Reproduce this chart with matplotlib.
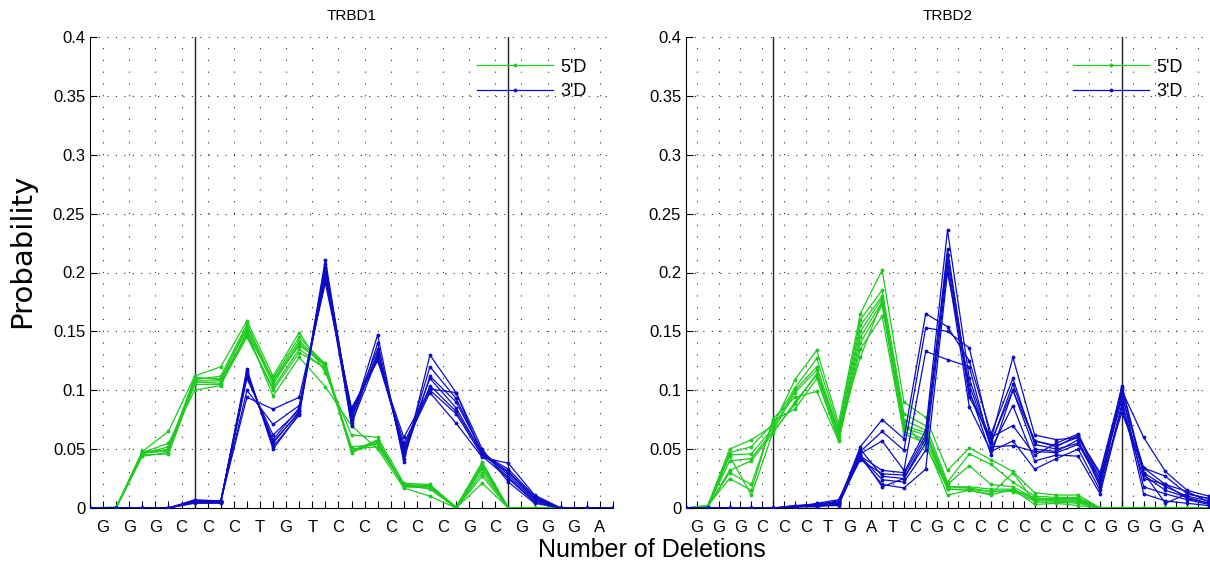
import matplotlib
matplotlib.use("Agg")
import matplotlib.pyplot as plt
import numpy as np

plt.rcParams['font.family'] = ['Liberation Sans', 'DejaVu Sans']

# ---------------- data ----------------
titles = ["TRBD1", "TRBD2"]
letters_d1 = list("GGGCCCTGTCCCCCGCGGGA")
letters_d2 = list("GGGCCCTGATCGCCCCCCCGGGGA")
boundaries_d1 = [4, 16]
boundaries_d2 = [4, 20]

# TRBD1 5'D deletion profiles (one list per sample), positions 0..20
d1_5p = [
    [0, 0.001, 0.047, 0.048, 0.110, 0.110, 0.152, 0.105, 0.140, 0.120, 0.049, 0.055, 0.019, 0.018, 0.001, 0.035, 0, 0, 0, 0, 0],
    [0, 0, 0.046, 0.050, 0.108, 0.108, 0.148, 0.110, 0.145, 0.122, 0.048, 0.058, 0.018, 0.017, 0, 0.038, 0, 0, 0, 0, 0],
    [0, 0, 0.045, 0.046, 0.105, 0.105, 0.145, 0.102, 0.135, 0.118, 0.050, 0.052, 0.020, 0.019, 0, 0.030, 0, 0, 0, 0, 0],
    [0, 0, 0.048, 0.065, 0.112, 0.120, 0.159, 0.112, 0.149, 0.115, 0.062, 0.060, 0.021, 0.020, 0, 0.033, 0, 0, 0, 0, 0],
    [0, 0, 0.047, 0.055, 0.100, 0.104, 0.150, 0.095, 0.128, 0.103, 0.070, 0.050, 0.017, 0.010, 0, 0.021, 0, 0, 0, 0, 0],
    [0, 0, 0.046, 0.052, 0.109, 0.112, 0.156, 0.108, 0.142, 0.121, 0.047, 0.056, 0.018, 0.019, 0.001, 0.039, 0, 0, 0, 0, 0],
    [0, 0, 0.044, 0.047, 0.107, 0.106, 0.147, 0.100, 0.132, 0.119, 0.052, 0.054, 0.020, 0.016, 0, 0.027, 0, 0, 0, 0, 0],
    [0, 0, 0.048, 0.049, 0.111, 0.109, 0.154, 0.108, 0.138, 0.123, 0.049, 0.057, 0.019, 0.018, 0, 0.036, 0, 0, 0, 0, 0],
]
# TRBD1 3'D deletion profiles
d1_3p = [
    [0, 0, 0, 0, 0.006, 0.005, 0.118, 0.050, 0.080, 0.211, 0.075, 0.147, 0.039, 0.130, 0.098, 0.045, 0.030, 0.008, 0, 0, 0],
    [0, 0, 0, 0, 0.005, 0.005, 0.115, 0.055, 0.082, 0.205, 0.080, 0.135, 0.045, 0.120, 0.093, 0.047, 0.026, 0.006, 0, 0, 0],
    [0, 0, 0, 0, 0.004, 0.004, 0.112, 0.058, 0.085, 0.200, 0.078, 0.130, 0.050, 0.110, 0.085, 0.046, 0.033, 0.010, 0, 0, 0],
    [0, 0, 0, 0, 0.007, 0.006, 0.110, 0.062, 0.083, 0.198, 0.072, 0.128, 0.055, 0.100, 0.080, 0.044, 0.025, 0.005, 0, 0, 0],
    [0, 0, 0, 0, 0.005, 0.005, 0.100, 0.071, 0.087, 0.195, 0.083, 0.126, 0.052, 0.098, 0.072, 0.043, 0.038, 0.011, 0, 0, 0],
    [0, 0, 0, 0, 0.006, 0.006, 0.094, 0.084, 0.094, 0.191, 0.085, 0.125, 0.060, 0.101, 0.098, 0.050, 0.022, 0.004, 0, 0, 0],
    [0, 0, 0, 0, 0.005, 0.005, 0.116, 0.052, 0.079, 0.203, 0.070, 0.140, 0.042, 0.112, 0.090, 0.048, 0.028, 0.007, 0, 0, 0],
    [0, 0, 0, 0, 0.006, 0.006, 0.113, 0.056, 0.081, 0.207, 0.076, 0.132, 0.047, 0.104, 0.082, 0.046, 0.031, 0.009, 0, 0, 0],
]
# TRBD2 5'D deletion profiles, positions 0..24
d2_5p = [
    [0, 0.002, 0.050, 0.058, 0.070, 0.109, 0.134, 0.072, 0.165, 0.202, 0.090, 0.077, 0.032, 0.051, 0.041, 0.031, 0.013, 0.011, 0.011, 0, 0, 0, 0, 0, 0],
    [0, 0.002, 0.047, 0.052, 0.072, 0.102, 0.127, 0.068, 0.160, 0.185, 0.080, 0.070, 0.022, 0.046, 0.037, 0.022, 0.010, 0.009, 0.009, 0, 0, 0, 0, 0, 0],
    [0, 0.001, 0.045, 0.046, 0.068, 0.100, 0.120, 0.065, 0.155, 0.180, 0.075, 0.066, 0.020, 0.036, 0.020, 0.018, 0.008, 0.008, 0.008, 0, 0, 0, 0, 0, 0],
    [0, 0.001, 0.040, 0.042, 0.066, 0.098, 0.117, 0.062, 0.150, 0.178, 0.070, 0.064, 0.018, 0.018, 0.016, 0.016, 0.007, 0.007, 0.007, 0, 0, 0, 0, 0, 0],
    [0, 0.001, 0.032, 0.040, 0.064, 0.090, 0.113, 0.060, 0.145, 0.175, 0.068, 0.062, 0.016, 0.016, 0.014, 0.014, 0.006, 0.006, 0.005, 0, 0, 0, 0, 0, 0],
    [0, 0.001, 0.030, 0.020, 0.074, 0.084, 0.110, 0.058, 0.140, 0.172, 0.065, 0.058, 0.016, 0.015, 0.012, 0.030, 0.005, 0.005, 0.004, 0, 0, 0, 0, 0, 0],
    [0, 0.002, 0.025, 0.015, 0.076, 0.094, 0.099, 0.057, 0.135, 0.163, 0.063, 0.055, 0.011, 0.015, 0.011, 0.016, 0.003, 0.004, 0.002, 0, 0, 0, 0, 0, 0],
    [0, 0.001, 0.044, 0.011, 0.065, 0.088, 0.114, 0.066, 0.128, 0.176, 0.072, 0.052, 0.018, 0.017, 0.014, 0.015, 0.009, 0.006, 0.006, 0, 0, 0, 0, 0, 0],
]
# TRBD2 3'D deletion profiles
d2_3p = [
    [0, 0, 0, 0, 0, 0.001, 0.002, 0.004, 0.052, 0.075, 0.059, 0.165, 0.154, 0.125, 0.063, 0.110, 0.054, 0.050, 0.055, 0.025, 0.095, 0.034, 0.027, 0.012, 0.008],
    [0, 0, 0, 0, 0, 0.001, 0.003, 0.006, 0.048, 0.065, 0.049, 0.153, 0.150, 0.136, 0.058, 0.128, 0.062, 0.058, 0.060, 0.028, 0.100, 0.060, 0.031, 0.015, 0.010],
    [0, 0, 0, 0, 0, 0.001, 0.002, 0.003, 0.046, 0.057, 0.032, 0.133, 0.126, 0.120, 0.050, 0.087, 0.040, 0.045, 0.044, 0.012, 0.085, 0.025, 0.020, 0.008, 0.004],
    [0, 0, 0, 0, 0, 0.001, 0.004, 0.007, 0.044, 0.032, 0.030, 0.066, 0.236, 0.110, 0.055, 0.105, 0.057, 0.052, 0.062, 0.020, 0.104, 0.030, 0.018, 0.010, 0.006],
    [0, 0, 0, 0, 0, 0.001, 0.002, 0.005, 0.041, 0.029, 0.028, 0.062, 0.215, 0.100, 0.045, 0.100, 0.050, 0.048, 0.058, 0.018, 0.098, 0.018, 0.012, 0.007, 0.003],
    [0, 0, 0, 0, 0, 0.002, 0.003, 0.004, 0.050, 0.027, 0.025, 0.059, 0.210, 0.094, 0.060, 0.070, 0.045, 0.055, 0.063, 0.024, 0.092, 0.012, 0.006, 0.004, 0.002],
    [0, 0, 0, 0, 0, 0.001, 0.002, 0.002, 0.044, 0.024, 0.022, 0.049, 0.205, 0.086, 0.048, 0.057, 0.033, 0.042, 0.050, 0.015, 0.088, 0.030, 0.004, 0.012, 0.008],
    [0, 0, 0, 0, 0, 0.001, 0.001, 0.003, 0.043, 0.020, 0.017, 0.033, 0.200, 0.105, 0.052, 0.053, 0.048, 0.047, 0.054, 0.022, 0.081, 0.034, 0.020, 0.014, 0.005],
    [0, 0, 0, 0, 0, 0.002, 0.003, 0.005, 0.045, 0.018, 0.025, 0.055, 0.220, 0.098, 0.056, 0.100, 0.057, 0.053, 0.060, 0.030, 0.102, 0.028, 0.015, 0.009, 0.004],
]

yticks = [0, 0.05, 0.1, 0.15, 0.2, 0.25, 0.3, 0.35, 0.4]
ytick_labels = ["0", "0.05", "0.1", "0.15", "0.2", "0.25", "0.3", "0.35", "0.4"]

GREEN = "#1ecb1e"
BLUE = "#0c0cc8"

fig = plt.figure(figsize=(12.1, 5.61), dpi=100)
W, H = 1210, 561
ax1 = fig.add_axes([90 / W, (H - 508) / H, 523 / W, 471 / H])
ax2 = fig.add_axes([686 / W, (H - 508) / H, 523 / W, 471 / H])

panels = [
    (ax1, titles[0], letters_d1, boundaries_d1, d1_5p, d1_3p),
    (ax2, titles[1], letters_d2, boundaries_d2, d2_5p, d2_3p),
]

for ax, title, letters, bounds, p5, p3 in panels:
    n = len(letters)
    x = np.arange(n + 1)
    ax.set_xlim(0, n)
    ax.set_ylim(0, 0.4)
    # grid
    for xv in np.arange(n) + 0.5:
        ax.axvline(xv, color="#303030", lw=0.8, linestyle=(0, (1.0, 9.6)), zorder=0)
    for yv in yticks[1:]:
        ax.axhline(yv, color="#303030", lw=0.8, linestyle=(0, (1.0, 6.6)), zorder=0)
    for b in bounds:
        ax.axvline(b, color="#222222", lw=1.0, zorder=1)
    for i, s in enumerate(p5):
        ax.plot(x, s, color=GREEN, lw=0.9, marker=".", ms=3.5,
                label="5'D" if i == 0 else None, zorder=2)
    for i, s in enumerate(p3):
        ax.plot(x, s, color=BLUE, lw=0.9, marker=".", ms=3.5,
                label="3'D" if i == 0 else None, zorder=3)
    ax.set_xticks(np.arange(n) + 0.5)
    ax.set_xticklabels(letters, fontsize=12)
    ax.set_xticks(np.arange(n + 1), minor=True)
    ax.set_yticks(yticks)
    ax.set_yticklabels(ytick_labels, fontsize=12)
    ax.tick_params(axis="both", which="both", direction="in", length=5, width=0.8)
    ax.tick_params(axis="x", which="major", pad=9)
    ax.spines["top"].set_visible(False)
    ax.spines["right"].set_visible(False)
    ax.set_title(title, fontsize=11, pad=12)
    ax.legend(loc="upper right", frameon=False, fontsize=13,
              handlelength=4.2, handletextpad=0.45, numpoints=1,
              borderaxespad=0.8, bbox_to_anchor=(0.992, 1.0),
              labelspacing=0.4)

fig.text(22 / W, 1 - 251 / H, "Probability", fontsize=21, rotation=90,
         ha="center", va="center", family=["DejaVu Sans"])
fig.text(652 / W, 1 - 550 / H, "Number of Deletions", fontsize=18,
         ha="center", va="center")

fig.savefig("out.png", dpi=100)
